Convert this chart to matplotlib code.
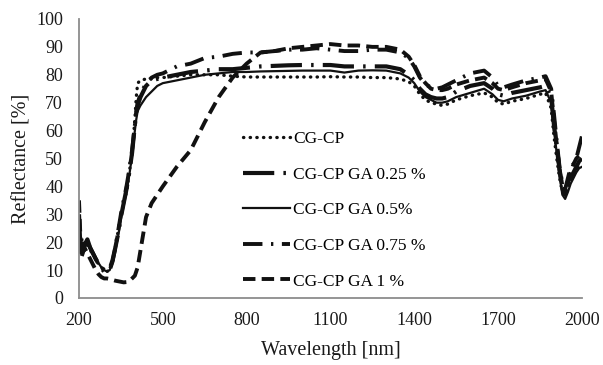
"""Reflectance spectra of CG-CP films with increasing GA content."""

import matplotlib

matplotlib.use("Agg")
import matplotlib.pyplot as plt

plt.rcParams["font.family"] = ["Liberation Serif", "DejaVu Serif"]

WAVELENGTH = [
    200, 205, 210, 220, 230, 240, 250, 260, 270, 280, 290, 300, 310, 320, 330, 340,
    350, 360, 370, 380, 390, 400, 405, 410, 420, 440, 460, 480, 500, 550, 600, 650,
    700, 750, 800, 850, 900, 950, 1000, 1050, 1100, 1150, 1200, 1250, 1300, 1350,
    1380, 1400, 1420, 1440, 1460, 1480, 1500, 1520, 1550, 1600, 1650, 1680, 1700,
    1720, 1750, 1800, 1850, 1870, 1890, 1900, 1910, 1920, 1930, 1940, 1950, 1960,
    1970, 1980, 1990, 2000,
]

CG_CP = [
    25, 17, 20, 18, 20, 17, 16, 14, 12, 11, 10, 9.5, 10, 13, 18, 24,
    30, 34, 38, 45, 52, 64, 72, 77, 78, 78.5, 78.5, 79, 79, 79.5, 80, 80,
    80, 79.5, 79.2, 79.2, 79.2, 79.2, 79.2, 79.2, 79.3, 79.2, 79.2, 79, 79, 78.5,
    77.5, 76, 73, 71, 70, 69.5, 69, 69.5, 71, 72.5, 73.5, 72, 70,
    69.5, 70.5, 71.5, 73, 73.5, 68, 58, 50, 43, 38, 37, 40, 42,
    44, 46, 47, 48,
]
GA_025 = [
    30, 18, 22, 19, 21, 18, 16, 14, 12.5, 11, 10, 9.8, 10.5, 13.5, 18, 23,
    29, 34, 39, 45, 52, 62, 66, 69, 72, 76, 78, 78.5, 79, 80, 81, 81.5,
    82, 82, 82.5, 83, 83.2, 83.4, 83.5, 83.5, 83.5, 83, 83, 83, 83, 82,
    80, 78, 75, 73, 72, 71.5, 71.5, 72, 74, 76, 77, 75, 73,
    72.5, 73.5, 74.5, 75.5, 76, 72, 62, 54, 46, 40, 38, 40, 43,
    45, 47, 49, 50,
]
GA_05 = [
    24, 16, 19, 18, 20, 18, 16.5, 14.5, 12.5, 11, 10, 9.5, 10, 13, 17, 22,
    28, 33, 38, 44, 51, 60, 64, 67, 69, 72, 74, 76, 77, 78, 79, 80,
    80.5, 81, 81, 81.2, 81.3, 81.4, 81.5, 81.5, 81.5, 80.8, 81.5, 81.6, 81.5, 80.5,
    79, 77, 74, 72, 71, 70, 70, 70.5, 72, 73.5, 75, 73, 71,
    70.5, 71.5, 72.5, 74, 74.5, 70, 60, 52, 44, 37, 35.5, 38, 41,
    43, 45, 46.5, 47,
]
GA_075 = [
    22, 17, 21, 19, 20, 18, 16, 14, 12, 10.5, 9.5, 9.2, 10, 13, 18, 24,
    30, 35, 40, 46, 53, 62, 67, 70, 73, 77, 79, 80, 80.5, 83, 84, 86,
    86.5, 87.5, 88, 88, 88.5, 89, 89, 89.5, 89, 88.5, 88.5, 89, 89, 88,
    86, 83, 79, 76.5, 75.5, 75, 75.5, 76.5, 78, 80.5, 81.5, 79, 76,
    75.5, 76.5, 78, 79, 79.5, 75, 66, 56, 47, 41, 39, 43, 47,
    48, 50, 54, 58,
]
GA_1 = [
    35, 22, 15, 18, 16, 14, 12, 10, 8.5, 7.5, 7, 7, 6.8, 6.5, 6.2, 6,
    5.8, 5.6, 5.7, 6, 7, 8, 9.5, 11, 17, 29, 34, 37, 40, 47, 53, 63,
    72, 79, 84, 88, 88.5, 89.5, 90, 90.5, 91, 90.5, 90.5, 90, 90, 89,
    86.5, 83.5, 79.5, 77, 75, 74.5, 74.5, 75, 76.5, 78, 79, 77, 75,
    74.5, 75.5, 77, 78, 78.5, 74, 64, 55, 46, 39, 37, 41, 45,
    48, 50, 51, 52,
]

LABELS = ["CG-CP", "CG-CP GA 0.25 %", "CG-CP GA 0.5%", "CG-CP GA 0.75 %", "CG-CP GA 1 %"]
X_TICKS = [200, 500, 800, 1100, 1400, 1700, 2000]
Y_TICKS = [0, 10, 20, 30, 40, 50, 60, 70, 80, 90, 100]

LINE_COLOR = "#111111"
TEXT_COLOR = "#1a1a1a"
SPINE_COLOR = "#8c8c8c"


def main() -> None:
    fig = plt.figure(figsize=(6.03, 3.65), dpi=100)
    ax = fig.add_axes([0.131, 0.1836, 0.834, 0.7644])

    series = [CG_CP, GA_025, GA_05, GA_075, GA_1]
    styles = [
        dict(lw=2.4, linestyle=(0, (0.1, 1.9)), dash_capstyle="round"),
        dict(lw=3.0, linestyle=(0, (7.5, 2.2, 0.6, 2.2))),
        dict(lw=1.6, linestyle="-"),
        dict(lw=2.8, linestyle=(0, (5, 2.2, 0.6, 2.2))),
        dict(lw=2.8, linestyle=(0, (3.2, 1.6))),
    ]
    for values, label, style in zip(series, LABELS, styles):
        ax.plot(WAVELENGTH, values, color=LINE_COLOR, label=label, **style)

    ax.set_xlim(200, 2000)
    ax.set_ylim(0, 100)
    ax.set_xticks(X_TICKS)
    ax.set_yticks(Y_TICKS)
    ax.tick_params(length=0, labelsize=13, colors=TEXT_COLOR)
    ax.tick_params(axis="y", pad=11.5)
    ax.tick_params(axis="x", pad=10)
    for side in ("top", "right"):
        ax.spines[side].set_visible(False)
    for side in ("left", "bottom"):
        ax.spines[side].set_color(SPINE_COLOR)
        ax.spines[side].set_linewidth(1.3)

    ax.set_xlabel("Wavelength [nm]", fontsize=14.5, labelpad=9, color=TEXT_COLOR)
    ax.set_ylabel("Reflectance [%]", fontsize=14.5, labelpad=3, color=TEXT_COLOR)

    ax.legend(
        loc="center left",
        bbox_to_anchor=(243 / 603, 0.424),
        bbox_transform=fig.transFigure,
        frameon=False,
        fontsize=12.5,
        borderpad=0,
        borderaxespad=0,
        handlelength=2.7,
        handletextpad=0.2,
        labelspacing=1.12,
    )

    fig.savefig("out.png", dpi=100)
    plt.close(fig)


if __name__ == "__main__":
    main()
